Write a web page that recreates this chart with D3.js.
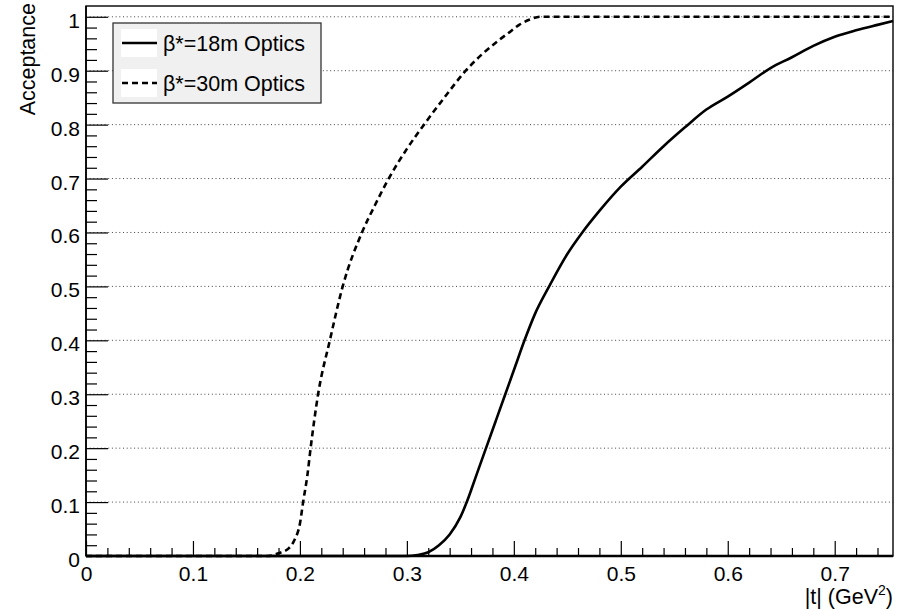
<!DOCTYPE html>
<html>
<head>
<meta charset="utf-8">
<script src="https://cdn.jsdelivr.net/npm/d3@7"></script>
<style>
  html, body { margin: 0; padding: 0; background: #fff; }
  svg { display: block; font-family: "Liberation Sans", Arial, Helvetica, sans-serif; }
</style>
</head>
<body>
<svg id="chart" width="907" height="611"></svg>
<script>
// ---- data ----
const tDashed   = [0, 0.17, 0.18, 0.19, 0.195, 0.2, 0.203, 0.207, 0.21, 0.217, 0.228, 0.24, 0.258, 0.27, 0.283, 0.3, 0.316, 0.335, 0.355, 0.37, 0.385, 0.395, 0.405, 0.415, 0.425, 0.7545];
const accDashed = [0, 0, 0.005, 0.015, 0.03, 0.06, 0.1, 0.15, 0.2, 0.3, 0.4, 0.5, 0.6, 0.65, 0.7, 0.755, 0.8, 0.85, 0.9, 0.93, 0.955, 0.97, 0.985, 0.995, 1.0, 1.0];
const tSolid    = [0, 0.3, 0.31, 0.32, 0.33, 0.34, 0.35, 0.356, 0.365, 0.374, 0.383, 0.392, 0.401, 0.41, 0.42, 0.433, 0.45, 0.464, 0.48, 0.5, 0.52, 0.54, 0.56, 0.58, 0.6, 0.62, 0.64, 0.66, 0.68, 0.7, 0.72, 0.74, 0.7545];
const accSolid  = [0, 0, 0.002, 0.007, 0.02, 0.04, 0.072, 0.1, 0.15, 0.2, 0.25, 0.3, 0.35, 0.4, 0.45, 0.5, 0.56, 0.6, 0.64, 0.685, 0.722, 0.76, 0.795, 0.828, 0.852, 0.878, 0.905, 0.925, 0.946, 0.963, 0.975, 0.985, 0.992];
const seriesNames = ["\u03B2*=18m Optics", "\u03B2*=30m Optics"];
const xMajorTicks = [0, 0.1, 0.2, 0.3, 0.4, 0.5, 0.6, 0.7];
const yMajorTicks = [0, 0.1, 0.2, 0.3, 0.4, 0.5, 0.6, 0.7, 0.8, 0.9, 1];
const xLabels = ["0", "0.1", "0.2", "0.3", "0.4", "0.5", "0.6", "0.7"];
const yLabels = ["0", "0.1", "0.2", "0.3", "0.4", "0.5", "0.6", "0.7", "0.8", "0.9", "1"];
const xDomain = [0, 0.7545];
const yDomain = [0, 1.02];

// ---- layout ----
const L = 86, R = 893, T = 6, B = 556;
const FONT = "Liberation Sans, Arial, sans-serif";
const svg = d3.select("#chart");
const x = d3.scaleLinear().domain(xDomain).range([L, R]);
const y = d3.scaleLinear().domain(yDomain).range([B, T]);

// gridlines (horizontal, dotted)
svg.append("g").selectAll("line")
  .data(yMajorTicks.filter(v => v > 0))
  .join("line")
  .attr("x1", L).attr("x2", R)
  .attr("y1", d => y(d)).attr("y2", d => y(d))
  .attr("stroke", "#444").attr("stroke-width", 1)
  .attr("stroke-dasharray", "1,2.7");

// minor ticks
const xMinor = d3.range(0, 0.75, 0.02).filter(v => Math.abs(v * 10 - Math.round(v * 10)) > 1e-6);
const yMinor = d3.range(0, 1.01, 0.02).filter(v => Math.abs(v * 10 - Math.round(v * 10)) > 1e-6);

const xMinorAxis = d3.axisBottom(x).tickValues(xMinor).tickSize(-8).tickFormat("");
const yMinorAxis = d3.axisLeft(y).tickValues(yMinor).tickSize(-11).tickFormat("");
svg.append("g").attr("transform", `translate(0,${B})`).call(xMinorAxis)
  .call(g => g.select(".domain").remove())
  .selectAll("line").attr("stroke", "#000").attr("stroke-width", 1.2);
svg.append("g").attr("transform", `translate(${L},0)`).call(yMinorAxis)
  .call(g => g.select(".domain").remove())
  .selectAll("line").attr("stroke", "#000").attr("stroke-width", 1.2);

// major axes
const xAxis = d3.axisBottom(x).tickValues(xMajorTicks).tickSize(-15).tickPadding(10)
  .tickFormat((d, i) => xLabels[i]);
const yAxis = d3.axisLeft(y).tickValues(yMajorTicks).tickSize(-22).tickPadding(6)
  .tickFormat((d, i) => yLabels[i]);

const gx = svg.append("g").attr("transform", `translate(0,${B})`).call(xAxis);
gx.select(".domain").remove();
gx.selectAll("line").attr("stroke", "#000").attr("stroke-width", 1.2);
gx.selectAll("text").attr("font-size", 21).attr("fill", "#000").attr("font-family", FONT);

const gy = svg.append("g").attr("transform", `translate(${L},0)`).call(yAxis);
gy.select(".domain").remove();
gy.selectAll("line").attr("stroke", "#000").attr("stroke-width", 1.2);
gy.selectAll("text").attr("font-size", 21).attr("fill", "#000").attr("dy", "0.5em")
  .attr("font-family", FONT);

// curves
const lineGen = d3.line().x(d => x(d[0])).y(d => y(d[1])).curve(d3.curveMonotoneX);
const solidData = tSolid.map((t, i) => [t, accSolid[i]]);
const dashedData = tDashed.map((t, i) => [t, accDashed[i]]);

svg.append("path").datum(dashedData)
  .attr("d", lineGen).attr("fill", "none").attr("stroke", "#000")
  .attr("stroke-width", 2.6).attr("stroke-dasharray", "6,4");
svg.append("path").datum(solidData)
  .attr("d", lineGen).attr("fill", "none").attr("stroke", "#000")
  .attr("stroke-width", 2.6);

// frame
svg.append("rect").attr("x", L).attr("y", T).attr("width", R - L).attr("height", B - T)
  .attr("fill", "none").attr("stroke", "#000").attr("stroke-width", 1.4);
svg.append("line").attr("x1", L).attr("x2", R).attr("y1", B).attr("y2", B)
  .attr("stroke", "#000").attr("stroke-width", 2.4);
svg.append("line").attr("x1", L).attr("x2", L).attr("y1", T).attr("y2", B)
  .attr("stroke", "#000").attr("stroke-width", 1.6);

// axis titles
svg.append("text").attr("transform", `translate(35,3) rotate(-90)`)
  .attr("text-anchor", "end").attr("font-size", 21.5).text("Acceptance");
const xt = svg.append("text").attr("x", R).attr("y", 604).attr("text-anchor", "end")
  .attr("font-size", 21.5);
xt.append("tspan").text("|t| (GeV");
xt.append("tspan").attr("font-size", 14).attr("dy", -9).text("2");
xt.append("tspan").attr("dy", 9).text(")");

// legend
const lg = svg.append("g");
lg.append("rect").attr("x", 113).attr("y", 23).attr("width", 208).attr("height", 80)
  .attr("fill", "#f0f0f0").attr("stroke", "#333").attr("stroke-width", 1.3);
const entryY = [43, 83];
const dashes = [null, "6,4"];
seriesNames.forEach((name, i) => {
  lg.append("rect").attr("x", 121).attr("y", entryY[i] - 14).attr("width", 36).attr("height", 28)
    .attr("fill", "#fff");
  lg.append("line").attr("x1", 122).attr("x2", 157).attr("y1", entryY[i]).attr("y2", entryY[i])
    .attr("stroke", "#000").attr("stroke-width", 2.6)
    .attr("stroke-dasharray", dashes[i]);
  lg.append("text").attr("x", 163).attr("y", entryY[i] + 7.5).attr("font-size", 21.5).text(name);
});
</script>
</body>
</html>
